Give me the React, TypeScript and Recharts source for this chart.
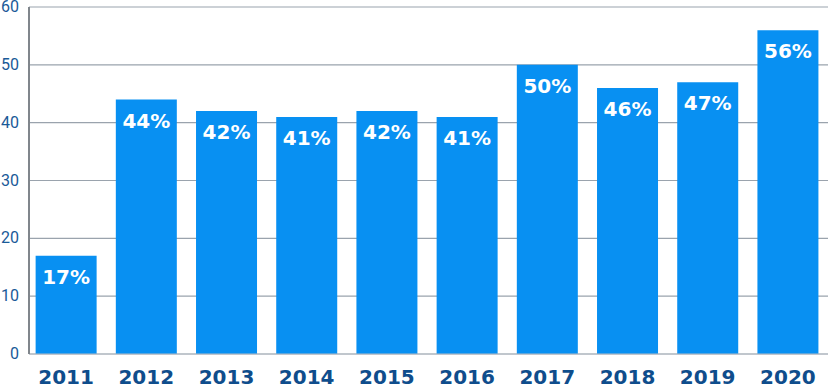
import { BarChart, Bar, XAxis, YAxis, CartesianGrid, LabelList } from 'recharts'

const years = ['2011', '2012', '2013', '2014', '2015', '2016', '2017', '2018', '2019', '2020']
const rates = [17, 44, 42, 41, 42, 41, 50, 46, 47, 56]
const yTicks = [0, 10, 20, 30, 40, 50, 60]

const data = years.map((year, i) => ({ year, rate: rates[i] }))

const YTick = (props: any) => {
  const { x, y, payload } = props
  return (
    <text x={19} y={y} dy={5} textAnchor="end" fill="#1a5a98" fontSize={16} fontFamily="Roboto">
      {payload.value}
    </text>
  )
}

const XTick = (props: any) => {
  const { x, y, payload } = props
  return (
    <text x={x} y={y} dy={22} textAnchor="middle" fill="#0f4d8c" fontSize={20} fontWeight={700} fontFamily="DejaVu Sans">
      {payload.value}
    </text>
  )
}

export default function App() {
  return (
    <div style={{ position: 'absolute', left: 0, top: 0 }}>
      <BarChart
        width={828}
        height={391}
        data={data}
        margin={{ top: 7, right: 0, left: 0, bottom: 0 }}
        barCategoryGap="12%"
      >
        <CartesianGrid vertical={false} stroke="#9aa3ad" strokeWidth={1.2} />
        <XAxis
          dataKey="year"
          height={37}
          axisLine={{ stroke: '#b5bcc4' }}
          tickLine={false}
          tick={<XTick />}
          padding={{ left: -3, right: 0 }}
        />
        <YAxis
          width={29}
          domain={[0, 60]}
          ticks={yTicks}
          interval={0}
          axisLine={{ stroke: '#80868c', strokeWidth: 2 }}
          tickLine={false}
          tick={<YTick />}
        />
        <Bar dataKey="rate" fill="#0890f2" isAnimationActive={false}>
          <LabelList
            dataKey="rate"
            position="insideTop"
            offset={14}
            formatter={(v: number) => `${v}%`}
            fill="#ffffff"
            fontSize={20}
            fontWeight={600}
            fontFamily="DejaVu Sans"
          />
        </Bar>
      </BarChart>
    </div>
  )
}
